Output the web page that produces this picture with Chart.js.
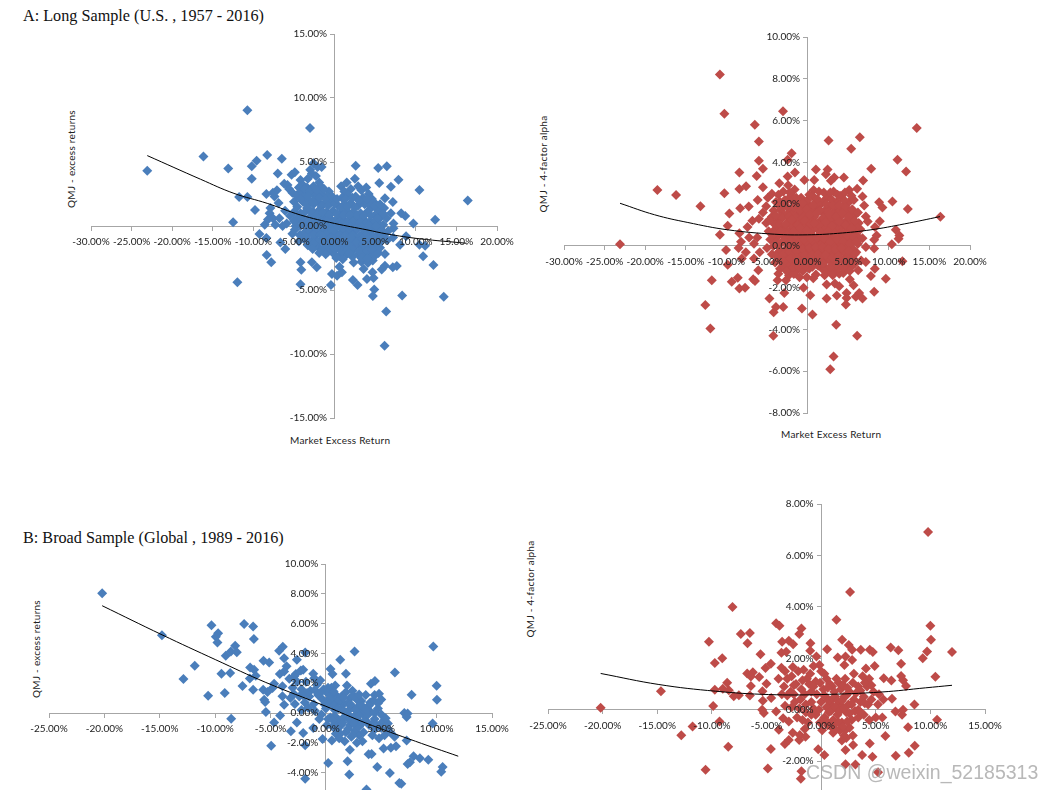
<!DOCTYPE html>
<html>
<head>
<meta charset="utf-8">
<title>QMJ</title>
<script src="https://cdn.jsdelivr.net/npm/chart.js@4/dist/chart.umd.min.js"></script>
<style>
  html, body { margin: 0; padding: 0; background: #fff; width: 1042px; height: 790px; overflow: hidden; }
  canvas { position: absolute; }
  .panel { position: absolute; font: 16.2px "Liberation Serif", serif; color: #111; white-space: nowrap; }
  .axis { position: absolute; font: 10px Lato, sans-serif; letter-spacing: 0.25px; color: #222; white-space: nowrap; }
  .vert { transform: translate(-50%, -50%) rotate(-90deg); }
  .mark { position: absolute; font: 19.5px "Liberation Sans", sans-serif; color: rgba(160,160,160,0.75); white-space: nowrap; }
</style>
</head>
<body>
<div class="panel" style="left:23px;top:7px">A: Long Sample (U.S. , 1957 - 2016)</div>
<div class="panel" style="left:23px;top:529px">B: Broad Sample (Global , 1989 - 2016)</div>
<div class="axis vert" style="left:71px;top:159px">QMJ - excess returns</div>
<div class="axis" style="left:290px;top:434px">Market Excess Return</div>
<div class="axis vert" style="left:543px;top:164px">QMJ - 4-factor alpha</div>
<div class="axis" style="left:781px;top:428px">Market Excess Return</div>
<div class="axis vert" style="left:36px;top:649px">QMJ - excess returns</div>
<div class="axis vert" style="left:530px;top:589px">QMJ - 4-factor alpha</div>
<canvas id="longExcess" width="480" height="410" style="left:50px;top:24px"></canvas>
<canvas id="longAlpha" width="490" height="400" style="left:530px;top:27px"></canvas>
<canvas id="broadExcess" width="510" height="320" style="left:10px;top:554px"></canvas>
<canvas id="broadAlpha" width="510" height="380" style="left:520px;top:494px"></canvas>
<div class="mark" style="left:806px;top:761px">CSDN @weixin_52185313</div>
<script>
// values, in percent: [market return, QMJ]
var longExcessPoints = [
  [-23.07,4.32],[-16.15,5.42],[-13.1,4.5],[-12.5,0.29],[-10.74,9.04],[-3.03,7.66],[-8.3,5.55],[-6.5,5.26],[-9.6,5.1],[-10.2,4.66],
  [-10.2,3.7],[-7,4.1],[-11.76,2.27],[-10.74,2.27],[-9.8,1.25],[2.6,4.71],[2.5,3.7],[5.37,4.53],[6.43,4.66],[5.5,3.36],
  [7.87,3.62],[6.93,3.07],[10.45,2.81],[16.4,2],[12.38,0.49],[9.7,0.2],[8.7,0.78],[8.2,1],[7.17,1.87],[6.2,2.16],
  [6.93,1],[7.25,0.2],[7.25,-0.18],[-8.6,0.1],[-9.26,-0.62],[-8.4,-0.94],[-6.68,-1.28],[-6.07,-1.8],[-8.36,-2.27],[-7.8,-2.84],
  [-11.97,-4.4],[-4.2,-2.84],[-4.1,-3.41],[-2.8,-2.84],[-2.2,-3.23],[-4.2,-4.56],[-0.45,-4.6],[-0.33,-3.75],[0.3,-3.88],[0.9,-3.62],
  [0.6,-3.18],[2.34,-2.86],[2.25,-4.22],[2.83,-4.6],[3.98,-4.14],[4.8,-4.06],[4.67,-3.62],[4.88,-4.97],[4.71,-5.47],[8.32,-5.42],
  [13.44,-5.52],[6.35,-6.67],[6.15,-9.35],[12.17,-3.05],[10.9,-2.37],[11.15,-1.54],[10.45,-1.46],[8.8,-0.81],[8.07,-1.46],[7.66,-3.13],
  [7.17,-3.23],[6.2,-3.1],[5.8,-3.39],[6.2,-2.19],[3.57,-3.36],
  [-5.3,4],[-4.9,4.2],[-5.8,3.2],[-6.2,3.3],[-5.6,2.9],[-5.2,2.6],[-4.2,3.6],[-3.9,3.2],[-3.3,3.7],[-3,4.4],
  [-2.6,4.9],[-2.1,4.6],[-1.6,4.6],[-2.8,4.1],[-2.3,3.9],[-1.9,3.4],[-1.7,3.1],[-3.4,3],[-2.6,3.1],[-0.7,2.7],
  [-0.9,2.3],[-7.6,2.6],[-8.4,2.5],[-7.1,2.8],[-7.4,2.3],[-6.9,1.8],[-7.9,1.4],[-8,1],[-7.6,0.6],[-8.2,0.5],
  [-7.3,0.1],[-6.8,0.6],[-6.1,1.2],[-5.9,0.2],[-6.4,0],[-5.5,0.8],[-5,1.9],[-4.7,2.4],[-4.1,2.7],[-3.6,2.4],
  [0.8,3.1],[1.2,2.7],[1.5,3.4],[2,2.9],[2.9,3.1],[3.3,2.8],[3.9,3],[4.2,2.5],[0.9,2.2],[1.7,2.4],
  [2.6,2.3],[3.5,2.2],[4.6,2.1],[5.1,1.7],[-4.6,1.5],[-3.9,1.9],[-3.1,2],[-2.4,2.4],[-1.6,2.5],[-2,1.9],
  [-1.2,1.8],[-0.4,1.9],[0.4,1.6],[1.2,1.7],[2,1.8],[2.9,1.6],[3.7,1.7],[4.5,1.4],[5.4,1.2],[6.1,1.4],
  [-5,1.1],[-4.2,1],[-3.4,1.4],[-2.6,1.1],[-1.8,1.3],[-1,1.1],[-0.2,1.2],[0.7,1],[1.5,1.2],[2.3,1.1],
  [3.2,1],[4,1.1],[4.9,0.8],[5.7,0.7],[6.4,0.6],[-4.6,0.5],[-3.8,0.6],[-3,0.7],[-2.2,0.5],[-1.4,0.7],
  [-0.6,0.6],[0.2,0.5],[1,0.6],[1.9,0.5],[2.7,0.6],[3.6,0.5],[4.4,0.4],[5.2,0.3],[6,0.1],[-4.2,0],
  [-3.4,0.1],[-2.6,0.1],[-1.8,-0.1],[-1,0.1],[-0.2,0],[0.6,0.1],[1.4,-0.1],[2.2,0.1],[3.1,0],[3.9,-0.1],
  [4.8,-0.1],[5.6,-0.2],[6.6,-0.4],[-5.2,-0.6],[-4.3,-0.7],[-3.7,-0.5],[-2.9,-0.4],[-2.2,-0.6],[-1.4,-0.4],[-0.6,-0.5],
  [0.2,-0.6],[1,-0.4],[1.8,-0.6],[2.6,-0.4],[3.5,-0.6],[4.3,-0.5],[5.2,-0.7],[6,-0.8],[7.2,-0.9],[-4.4,-1.2],
  [-3.2,-1.1],[-2.5,-1],[-1.7,-1.1],[-0.9,-0.9],[-0.1,-1.1],[0.7,-1],[1.5,-1.1],[2.3,-1],[3.1,-1.2],[3.9,-1],
  [4.8,-1.2],[5.6,-1.3],[-2.1,-1.6],[-1.2,-1.7],[-0.5,-1.5],[0.3,-1.7],[1.1,-1.5],[1.9,-1.7],[2.7,-1.5],[3.5,-1.7],
  [4.3,-1.6],[5,-1.8],[-0.2,-2.1],[0.6,-2.3],[1.5,-2.2],[2.9,-2.2],[3.7,-2.3],[4.5,-2.2],[3.3,-2.8],[4.1,-2.9],[4.7,-2.7],
  [-3.4,1.65],[-2.6,1.7],[-1.6,1.55],[-0.8,1.6],[0,1.75],[0.8,1.45],[1.6,1.5],[2.5,1.45],[3.3,1.95],[4.1,1.75],[4.9,1.55],[5.6,1.7],
  [-4.4,0.75],[-3.7,1.05],[-3,1.2],[-2.2,0.9],[-1.4,1.05],[-0.6,0.85],[0.3,0.95],[1.1,0.85],[1.9,0.8],[2.8,0.85],[3.6,0.8],[4.4,0.85],[5.3,0.6],[6,0.95],
  [-3.9,0.25],[-3.2,0.4],[-2.5,0.35],[-1.8,0.25],[-1,0.4],[-0.2,0.3],[0.6,0.3],[1.5,0.25],[2.3,0.35],[3.1,0.25],[3.9,0.2],[4.8,0.2],[5.6,0.05],
  [-3.1,-0.15],[-2.3,-0.2],[-1.4,-0.15],[-0.6,-0.2],[0.2,-0.15],[1,-0.2],[1.8,-0.25],[2.7,-0.15],[3.5,-0.25],[4.4,-0.2],[5.2,-0.3],[6.1,-0.5],
  [-3.4,-0.75],[-2.6,-0.7],[-1.8,-0.65],[-1,-0.65],[-0.2,-0.75],[0.6,-0.7],[1.4,-0.75],[2.2,-0.7],[3.1,-0.8],[3.9,-0.75],[4.7,-0.8],[5.6,-0.95],[6.5,-1.1],
  [-2.9,-1.35],[-2.1,-1.25],[-1.3,-1.35],[-0.5,-1.2],[0.3,-1.3],[1.1,-1.25],[1.9,-1.35],[2.7,-1.25],[3.5,-1.35],[4.4,-1.3],[5.2,-1.45],
  [-1.6,-1.9],[-0.8,-2],[0,-1.8],[0.9,-1.95],[1.6,-1.9],[2.3,-1.85],[3.1,-1.95],[3.9,-1.95],[4.7,-1.9],[5.4,-2.1],[2.2,-2.4],[3.3,-2.5],[4,-2.55],
  [-4.4,3],[-3.7,2.9],[-3,2.7],[-2.2,2.8],[-1.3,2.9],[-4.2,2.1],[-3.3,2.3],[-2.6,2],[-1.9,2.2],[-1.1,2.1],[-0.3,2.3],[0.3,2.1],[1.3,2.1],[2.2,2.2],[3,2],[4,2.1],
  [-4.8,0],[-5,0.4],[-4.9,-0.3],[-3.3,-0.25],[-2.2,0.15],[-1.2,0],[-0.3,-0.4],[0.9,0.2],[2,-0.05],[3.3,-0.1],[4.2,0.05],[5.1,-0.05],[-3.8,-1],[-3.3,-1.5],[-2.6,-1.3],[-1.5,-0.8],[-0.4,-0.9],[1.2,-0.8],[2,-0.9],[3.4,-1],[4.2,-0.95],[5,-1],
  [-2.7,-1.8],[-1.9,-2.1],[-1.1,-2.2],[0.2,-2.5],[1,-2.6],[1.8,-2.1],[5,-2.3],[5.6,-1.7]
];
var longExcessTrend = [[-23.07,5.5],[-16.5,3.65],[-12.4,2.55],[-8.3,1.77],[-4.2,0.86],[0,0.2],[3.98,-0.3],[6.43,-0.62],[10.5,-1],[16.27,-1.35]];

var longAlphaPoints = [
  [-23.1,0.08],[-18.5,2.68],[-16.2,2.44],[-13.2,1.9],[-10.8,8.2],[-10.25,6.33],[-3.03,6.44],[-6.5,5.8],[-6,5],[-6,4.07],
  [-5.5,3.69],[-8.4,3.51],[-6.27,3.35],[-10.25,2.52],[-8.4,2.72],[-7.58,2.86],[-5.5,2.81],[-6.15,2.2],[-7.25,1.88],[-8.3,1.8],
  [-9.63,1.55],[-9.84,0.97],[-10.8,0.53],[-1.97,4.44],[-2.46,4.12],[-1.56,3.51],[-2.46,3.32],[-0.4,3.16],[-3.48,3],[2.58,5.05],
  [6.43,5.2],[5.37,4.65],[13.44,5.64],[11.07,4.12],[12.13,3.56],[7.83,3.69],[6.84,3.13],[1.02,3.66],[2.46,3.66],[2.25,3.43],
  [3.28,3.27],[2.87,3.12],[4.47,3.27],[0.82,3.16],[0.74,2.68],[5.12,2.68],[6.1,2.73],[10.45,2.12],[8.81,2.09],[9.22,1.84],
  [12.34,1.76],[16.35,1.39],[8.89,1.18],[10.86,0.77],[11.2,0.34],[10.37,0.08],[8.2,0.29],[6.76,0.37],[7.17,1.41],[7.4,1.17],
  [6.97,1.93],[6.76,2.36],[-10.04,-0.2],[-9.84,-0.9],[-11.8,-1.65],[-9.34,-1.72],[-8.6,-1.53],[-8.4,-2.04],[-7.7,-2],[-12.6,-2.83],
  [-11.97,-3.96],[-6.7,-1.6],[-6.48,-1.68],[-6.07,-1.17],[-4.7,-2.52],[-3.9,-2.92],[-3,-2.92],[-4.18,-3.18],[-4.22,-4.3],[-3.6,-1.33],
  [-3.7,-1.65],[-2.66,-1.65],[-2.87,-2.25],[-0.5,-2],[0.33,-2.36],[-0.7,-3],[0.6,-3.29],[3.52,-3.77],[6.1,-4.3],[3.2,-5.3],
  [2.79,-5.9],[2.34,-1.85],[3.36,-1.8],[3.9,-1.93],[2.34,-2.52],[3.6,-2.38],[4.8,-2.25],[4.8,-2.49],[4.71,-2.8],[5.2,-1.6],
  [5.66,-1.88],[5.94,-2.44],[6.35,-2.25],[6.76,-2.52],[8.2,-2.2],[7.79,-1.44],[9.63,-1.57],[8.28,-1.09],[6.23,-1.17],[7.17,-0.77],
  [11.68,-0.73],[8.2,-0.13],[7.17,-0.05],[3.9,-1.33],[1.02,-1.37],[11.3,0.5],[8.5,0.5],[8.3,0.9],
  [-8.4,0.6],[-8.2,0.2],[-8.5,-0.1],[-7.6,-0.3],[-8.1,-0.6],[-7.2,0.4],[-6.6,0.1],[-6.2,0.4],[-5.9,-0.3],[-6.6,-0.6],[-7.4,0.9],[-6.8,1.2],
  [-6,1.3],[-5.5,1.6],[-5.1,1.9],[-4.9,2.3],[-4.4,2.5],[-3.9,2.1],[-3,2.6],[-2.4,2.9],[-1.6,2.7],[-0.8,2.3],
  [-3.3,1.7],[-2.5,2.2],[-1.8,2.1],[-0.4,1.9],[0.6,2.4],[1.4,2.6],[2.4,2.3],[3.2,2.6],[4,2.4],[5.1,2.1],
  [5.7,2.2],[1.9,2.1],[3.6,2.1],[-5.1,1.1],[-4.4,1.4],[-3.7,1.2],[-2.9,1.5],[-2.1,1.7],[-1.3,1.5],[-0.5,1.6],
  [0.3,1.9],[1.1,1.8],[1.9,1.6],[2.7,1.9],[3.5,1.7],[4.3,1.9],[5.1,1.6],[5.9,1.5],[6.3,1.1],[-4.8,0.7],
  [-4,0.8],[-3.2,0.9],[-2.4,1.1],[-1.6,1.2],[-0.8,1.1],[0,1.3],[0.8,1.4],[1.6,1.2],[2.4,1.4],[3.2,1.2],
  [4,1.4],[4.8,1.2],[5.6,1],[-4.6,0.3],[-3.8,0.4],[-3,0.5],[-2.2,0.7],[-1.4,0.8],[-0.6,0.7],[0.2,0.9],
  [1,0.9],[1.8,0.8],[2.6,1],[3.4,0.8],[4.2,0.9],[5,0.8],[5.8,0.6],[6.5,0.8],[-5,-0.1],[-4.2,0],
  [-3.4,0.1],[-2.6,0.2],[-1.8,0.4],[-1,0.3],[-0.2,0.5],[0.6,0.5],[1.4,0.5],[2.2,0.6],[3,0.4],[3.8,0.5],
  [4.6,0.4],[5.4,0.3],[6.2,0.1],[-4.4,-0.4],[-3.6,-0.3],[-2.8,-0.2],[-2,-0.1],[-1.2,-0.1],[-0.4,0.1],[0.4,0.1],
  [1.2,0.2],[2,0.2],[2.8,0],[3.6,0.1],[4.4,0],[5.2,-0.1],[6,-0.3],[-4,-0.8],[-3.2,-0.7],[-2.4,-0.6],
  [-1.6,-0.5],[-0.8,-0.4],[0,-0.3],[0.8,-0.3],[1.6,-0.2],[2.4,-0.3],[3.2,-0.4],[4,-0.3],[4.8,-0.5],[5.6,-0.6],
  [6.6,-0.7],[-3.4,-1.1],[-2.6,-1],[-1.8,-0.9],[-1,-0.8],[-0.2,-0.7],[0.6,-0.7],[1.4,-0.6],[2.2,-0.7],[3,-0.8],
  [3.8,-0.7],[4.6,-0.9],[5.4,-1],[-1.4,-1.2],[-0.6,-1.2],[-0.1,-1.5],[0.2,-1.1],[1.8,-1.1],[2.6,-1.2],[3.4,-1.1],
  [4.4,-1.3],[-2.3,-1.4],[-1,-1.5],
  [-3.6,2.45],[-2.8,2.2],[-2,2.4],[-1.2,2],[0,2.2],[1,2.1],[2.9,2.25],[4.5,2.2],[-2.9,1.95],[-1.5,1.9],[0.7,1.65],[1.5,1.95],[2.3,1.75],[3.1,1.6],[3.9,1.65],[4.7,1.6],[5.5,1.35],
  [-4.1,1.05],[-3.4,1.4],[-2.6,1.45],[-1.8,1.55],[-1,1.35],[-0.2,1.55],[0.4,1.15],[1.2,1.1],[2,1.05],[2.8,1.3],[3.6,1.05],[4.4,1.1],[5.2,1.05],[6,0.9],
  [-4.3,0.55],[-3.5,0.65],[-2.7,0.8],[-1.9,0.95],[-1.1,0.7],[-0.3,0.95],[0.5,0.7],[1.3,0.8],[2.2,0.85],[3,0.7],[3.8,0.85],[4.6,0.6],[5.4,0.65],[6.2,0.45],
  [-3.9,0.15],[-3.1,0.2],[-2.3,0.4],[-1.4,0.45],[-0.6,0.45],[0.1,0.65],[1,0.35],[1.8,0.45],[2.6,0.3],[3.4,0.45],[4.2,0.3],[5,0.25],[5.8,0.25],
  [-3.4,-0.25],[-2.4,-0.1],[-1.6,0.1],[-0.8,0.1],[0,0.15],[0.8,0.15],[1.6,0.05],[2.4,0],[3.2,0],[4,0.1],[4.8,0],[5.6,-0.15],
  [-3.6,-0.65],[-2.8,-0.5],[-2,-0.4],[-1.2,-0.35],[-0.4,-0.25],[0.4,-0.25],[1.2,-0.2],[2,-0.2],[2.8,-0.35],[3.6,-0.25],[4.4,-0.25],[5.2,-0.4],
  [-3,-0.95],[-2.2,-0.85],[-1.4,-0.75],[-0.6,-0.65],[0.2,-0.55],[1,-0.55],[1.8,-0.55],[2.6,-0.6],[3.4,-0.6],[4.2,-0.65],[5,-0.8],[5.8,-0.85],
  [-2,-1.2],[-1.7,-1.35],[0.6,-1],[1.3,-0.95],[2.2,-1.05],[3,-1.05],[3.8,-1.05],[4.8,-1.1],[0.7,-1.55],[2.1,-1.4],[3.1,-1.4],
  [-3.4,2.1],[-2.2,2.55],[-1.4,2.3],[-0.6,2.05],[0.2,2.45],[1.2,2.25],[2,2.55],[2.8,2.55],[3.7,2.45],[4.6,2.55],[5.4,2.4],
  [-4.2,1.7],[-3.5,1.9],[-2.6,1.9],[-1.7,1.85],[-0.9,1.7],[-0.1,1.75],[0.7,1.95],[1.5,1.7],[2.3,2],[3.1,1.95],[3.9,1.95],[4.7,1.85],[5.5,1.75],[6.2,1.6],
  [-4.7,1.25],[-3.9,1.45],[-3.1,1.35],[-2.3,1.4],[-1.4,1.35],[-0.6,1.35],[0.3,1.5],[1.1,1.55],[1.9,1.35],[2.7,1.5],[3.5,1.4],[4.3,1.55],[5,1.4],[5.8,1.2],
  [-3.5,1.05],[-2.7,1.05],[-2,1.25],[-1.2,1],[-0.4,1.2],[0.4,1.05],[1.4,1],[2.2,1.15],[3,0.95],[3.9,1.15],[4.7,1],[5.4,0.85],
  [-4.1,0.6],[-3.3,0.7],[-2.5,0.55],[-1.7,0.7],[-0.9,0.85],[-0.1,0.75],[0.8,1.1],[1.6,0.65],[2.5,0.7],[3.3,0.6],[4.1,0.65],[4.9,0.5],[5.7,0.45],
  [-3.7,0.05],[-2.9,0.25],[-2.1,0.2],[-1.2,0.15],[-0.4,0.3],[0.4,0.35],[1.2,0.4],[2,0.35],[2.8,0.2],[3.6,0.3],[4.4,0.2],[5.2,0.1],[6,0.2],
  [-3.8,-0.5],[-3,-0.4],[-2.2,-0.3],[-1.4,-0.25],[-0.6,-0.15],[0.2,-0.1],[1,-0.05],[1.8,-0.05],[2.6,-0.15],[3.4,-0.15],[4.2,-0.1],[5,-0.25],[5.8,-0.4],
  [-2.9,-0.75],[-2.1,-0.6],[-1.3,-0.55],[-0.4,-0.45],[0.5,-0.45],[1.3,-0.4],[2.2,-0.45],[3,-0.55],[3.8,-0.5],[4.6,-0.7],[5.2,-0.75],
  [-2.6,-1.2],[-1.8,-1.05],[-1.1,-1],[-0.3,-0.95],[0.4,-0.85],[1.1,-0.85],[1.9,-0.85],[2.8,-1],[3.6,-0.9],[4.4,-1.05],[5.2,-1.2]
];
var longAlphaTrend = [[-23.1,2.04],[-18.85,1.49],[-14.75,1.12],[-9.84,0.77],[-4.1,0.56],[0,0.53],[3.7,0.6],[7.8,0.77],[11.9,1.05],[16.3,1.4]];

var broadExcessPoints = [
  [-20.2,8.04],[-14.8,5.22],[-12.86,2.28],[-11.84,3.17],[-10.63,1.16],[-10.33,5.89],[-9.73,5.36],[-9.94,5.11],[-9.79,4.73],[-7.38,5.98],
  [-6.57,5.8],[-6.5,4.96],[-8.19,4.51],[-8.58,4.13],[-8.04,4.08],[-9.04,3.84],[-9.43,2.63],[-8.64,2.68],[-9.13,1.34],[-8.55,-0.38],
  [-7.53,1.81],[-6.87,2.32],[-6.84,3.06],[-6.48,2.9],[-6.33,2.5],[-6.57,1.56],[-5.66,1.56],[-5.57,0.89],[-5.48,0.74],[-5.42,0.07],
  [-4.67,-0.63],[-4.94,-2.19],[-5.63,3.5],[-5.12,3.39],[-4.22,4.17],[-3.89,4.44],[-3.77,3.68],[-3.55,3.13],[-4.16,2.61],[-3.77,2.79],
  [-4.67,1.96],[-5.27,1.41],[-4.82,1.67],[-3.92,1.79],[-3.92,1.12],[-3.77,0.56],[-4.13,-0.16],[-2.62,3.57],[-1.87,4.06],[-2.71,2.61],
  [-2.86,2.46],[-2.26,2.86],[-2.05,2.9],[-1.14,2.63],[-1.05,2.34],[-3.16,-1.23],[-2.05,-1.34],[-2.62,-0.63],[-1.87,-2.17],[-1.87,-4.42],
  [-1.14,-1],[-0.3,-1.74],[0.21,-3.35],[0.54,-1.85],[0.42,2.95],[0.6,2.61],[1.3,3.57],[2.59,4.13],[1.81,2.63],[1.9,1.85],
  [0.84,1.85],[4.07,1.96],[4.43,2.14],[6.23,2.72],[9.7,4.46],[10,1.83],[10.03,0.89],[7.74,1.23],[7.08,0],[7.38,-0.04],
  [7.29,-0.27],[9.64,-0.71],[7.29,-1.85],[6.33,-2.23],[5.87,-2.34],[5.21,-2.39],[2.17,-2.46],[1.96,-3.24],[3.86,-2.77],[4.13,-2.75],
  [4.64,-3.62],[5.78,-4.02],[2.11,-4.13],[3.67,-5.13],[6.63,-4.69],[6.81,-4.75],[7.38,-3.42],[7.59,-3.3],[7.92,-2.9],[8.49,-3.04],
  [9.25,-3.13],[10.54,-3.62],[10.42,-3.95],
  [-3.3,2.3],[-3,1.7],[-2.6,2.1],[-2.2,1.6],[-1.8,2.1],[-1.4,1.5],[-0.8,1.9],[-0.5,2.2],[-0.2,1.6],[0.2,1.3],
  [0.5,1.7],[-3.2,1],[-2.8,0.6],[-2.4,1.1],[-1.9,0.7],[-1.5,1.1],[-1.1,0.6],[-0.7,1.2],[-0.3,0.9],[0.1,0.8],
  [0.5,0.9],[0.9,1.2],[1.4,1.1],[1.8,1.4],[2.2,1],[2.4,1.5],[2.8,0.9],[3.2,0.8],[3.6,1.2],[4,0.7],
  [4.4,1.2],[4.8,1.3],[5,0.9],[-0.4,-0.1],[0,0.3],[0.4,-0.3],[0.8,0.2],[1.2,-0.5],[1.6,0.6],[2,-0.1],
  [2.4,0.4],[2.8,-0.4],[3.2,0.2],[3.6,-0.5],[4,0.1],[4.4,-0.4],[4.7,0.3],[5.1,-0.6],[5.6,-0.7],[0.6,-0.9],
  [1,-1.1],[1.4,-0.8],[1.8,-1.3],[2.2,-0.8],[2.6,-1.2],[3,-1.5],[3,-0.9],[3.4,-1.3],[4.4,-1.1],[4.8,-1.7],
  [5.3,-1.5],[5.8,-1.3],[6.2,-1.6],[1.7,-1.9],[2.3,-1.6],[2.8,-2],[3.3,-1.9],[0.9,-1.4],[0.1,-0.8],[-0.6,-0.4],
  [2.1,0.2],[1.6,-0.3],[3,0.5],[1.4,0.3],[2.6,-0.2],[3.8,-0.1],[4.2,-0.7],
  [-1.7,1.35],[-1,1.55],[-0.5,1.35],[0.2,1.7],[0.7,1.45],[1.1,0.75],[1.6,1],[2,0.65],[2.5,1.15],[3,1.25],[3.3,0.45],[3.9,0.5],[4.3,0.85],[4.7,0.65],
  [-0.1,0.55],[0.3,0.6],[0.7,0.5],[1.1,0.3],[1.6,0.15],[2.2,0.6],[2.7,0.2],[3.4,-0.1],[3.6,0.25],[4.4,0],[5,-0.1],[5.4,-0.35],
  [0.2,-0.4],[0.8,-0.2],[1,-0.6],[1.5,-0.65],[2.1,-0.45],[2.5,-0.7],[3,-0.15],[3.3,-0.65],[3.9,-0.8],[4.5,-0.75],[5,-1],[0.6,-0.45],
  [1.3,-1.4],[2,-1.05],[2.4,-1.5],[1.2,-1.7],[4.2,-1.5],[5.6,-1.05],[-2.2,0.2],[-1.6,0.35],[-1,0.15],[-2.9,1.3],[-2.1,1.2]
];
var broadExcessTrend = [[-20.2,7.2],[-14.8,5.25],[-9.94,3.57],[-5.42,2.05],[0,0.45],[3.6,-0.67],[8.1,-1.9],[11.95,-2.9]];

var broadAlphaPoints = [
  [-20.18,0.08],[-14.66,0.72],[-12.8,-0.99],[-11.77,-0.65],[-10.58,-2.33],[-10.27,2.64],[-9.73,1.82],[-9.05,2],[-9.88,0.14],[-9.73,0.78],
  [-9.3,-0.46],[-8.5,-1.44],[-8.6,1.05],[-9,0.82],[-8.45,0.76],[-8,0.52],[-8.11,3.99],[-7.35,2.94],[-6.52,2.98],[-6.74,2.58],
  [-5.55,2.16],[-5.09,1.62],[-4.6,1.79],[-6.77,1.41],[-6.25,1.46],[-6.43,1.29],[-5.67,1.27],[-6.43,0.92],[-6.52,0.55],[-7.53,0.56],
  [-5,1.01],[-5.37,0.72],[-5.34,0.35],[-4.57,0.46],[-5.4,0],[-5.24,-0.13],[-4.12,-0.07],[-3.87,-0.78],[-3.48,-0.33],[-2.96,-0.46],
  [-4.6,-1.53],[-4.88,-2.29],[-3.32,-1.33],[-2.96,-1.18],[-2.01,-1.18],[-1.95,-0.98],[-1.43,-1.05],[-1.8,-2.39],[-1.86,-2.68],[-0.27,-1.54],
  [0.3,-1.76],[2.23,-2.12],[3.14,-2.13],[3.75,-1.76],[4.7,-1.83],[5.21,-2.43],[6.83,-1.79],[8.02,-1.67],[8.57,-1.4],[7.96,-0.68],
  [5.88,-1.02],[4.45,-1.31],[2.23,-1.57],[2.93,-1.37],[10.61,-0.39],[8.54,0.2],[7.41,-0.2],[7.5,0],[6.8,-0.07],[7.77,0.92],
  [7.5,1.15],[7.32,1.31],[7.32,1.79],[7.07,2.31],[6.37,2.42],[5.73,1.22],[6.43,1.14],[6.49,0.43],[10.46,1.28],[11.98,2.24],
  [9.3,2],[9.7,2.26],[10.06,2.72],[10,3.27],[9.79,6.91],[2.65,4.58],[1.4,3.5],[1.92,2.72],[2.53,2.52],[2.84,2.33],
  [3.63,2.33],[4.45,2.33],[4.73,2.24],[2.84,1.93],[2.13,1.74],[2.23,2.07],[1.52,2.03],[0.55,2.35],[-0.98,2.58],[-1,2.29],
  [-0.43,2.07],[-0.15,1.74],[-1.8,3.16],[-2,2.94],[-4.12,3.36],[-3.81,3.27],[-3.57,2.64],[-2.96,2.68],[-2.56,2.55],[-3.63,2.22],
  [-3.2,2.25],[-3.63,1.63],[-2.59,1.66],
  [-3.4,0.9],[-3.1,1.2],[-2.8,0.7],[-2.7,1.3],[-2.3,1],[-2.1,1.5],[-1.8,0.8],[-1.3,1.2],[-1,1.4],[-0.9,0.7],
  [-0.5,1.1],[0,1.5],[0.2,0.8],[0.5,1.2],[1,0.9],[1.4,1.2],[1.8,0.8],[2.2,1.2],[2.6,0.7],[3,1.4],
  [3.4,0.9],[3.8,1.3],[4.1,1.6],[4.4,1.2],[4.9,1.7],[4.2,0.9],[4.8,0.7],[5.3,0.6],[-2.4,0.3],[-1.9,0.4],
  [-1.4,0.2],[-0.9,0.3],[-0.4,0.6],[0,0.3],[0.4,0.5],[0.9,0.2],[1.3,0.5],[1.7,0.2],[2.1,0.5],[2.5,0.2],
  [3,0.4],[3.4,0],[3.9,0.5],[4.3,0.2],[5.2,0.2],[5.7,0.4],[-2.2,-0.3],[-1.7,-0.4],[-1.2,-0.5],[-0.5,-0.2],
  [-0.2,0],[0.3,-0.3],[0.7,-0.1],[1.1,-0.4],[1.5,-0.2],[1.9,-0.5],[2.3,-0.1],[2.8,-0.4],[3.4,-0.3],[3.9,-0.2],
  [4.4,-0.4],[5,-0.3],[5.6,-0.3],[0.1,-0.8],[0.6,-0.6],[1.1,-0.9],[1.7,-0.8],[2.2,-0.8],[2.6,-0.7],[2.9,-1],
  [1.3,-0.5],[2.3,-1.1],
  [-1.6,1.55],[-0.7,1.7],[0.3,1.4],[0.8,1],[1.2,0.7],[1.6,1.05],[2,0.95],[2.4,0.85],[2.9,1.05],[3.6,0.75],[4,1.05],[4.6,0.95],
  [-0.1,1.05],[0.6,0.85],[0.3,0.55],[0.7,0.35],[1.1,0.45],[1.5,0.35],[1.9,0.35],[2.3,0.55],[2.8,0.2],[3.2,0.65],[3.6,0.3],[4,0.25],[4.6,0.4],
  [0.5,0.1],[0.9,-0.05],[1.3,0.1],[1.7,-0.05],[2.1,0.05],[2.6,-0.15],[3.1,-0.05],[3.6,-0.1],[0.5,-0.45],[0.9,-0.65],[1.3,-0.75],[1.6,-0.5],[2,-0.65],[2.4,-0.45],[2.1,-1],[1.9,-1.2],[-0.1,-0.5],[-1.5,0.6],[-2,0.05],[-2.5,0.6],
  [-3.9,1.2],[-3.6,0.6],[-3.3,1.5],[-2.5,0.95],[-1.7,1.15],[-1.1,1],[-0.7,0.9],[-3.1,0.55],[-3.3,0.15],[-2.7,0.1],[-0.7,0.05],[-0.9,-0.2],[-1.4,-0.1],[-2.6,-0.9],[-1.5,-0.75]
];
var broadAlphaTrend = [[-20.18,1.41],[-14.85,0.98],[-9.66,0.72],[-4.8,0.59],[0,0.59],[5.58,0.69],[9.54,0.85],[11.98,0.95]];

var blue = '#4a7ebb';
var red = '#be4b48';
var tickFont = { family: 'Lato, sans-serif', size: 10 };

function pct(v) {
  return v.toFixed(2) + '%';
}

function scatter(id, points, trend, color, xMin, xMax, xStep, yMin, yMax, yStep, padding) {
  var toXY = function (p) { return { x: p[0], y: p[1] }; };
  return new Chart(document.getElementById(id), {
    type: 'scatter',
    data: {
      datasets: [{
        data: trend.map(toXY),
        showLine: true,
        tension: 0.4,
        borderColor: '#000',
        borderWidth: 1,
        pointRadius: 0
      }, {
        data: points.map(toXY),
        pointStyle: 'rectRot',
        pointRadius: 5,
        backgroundColor: color,
        borderWidth: 0
      }]
    },
    options: {
      responsive: false,
      animation: false,
      events: [],
      layout: { padding: padding },
      plugins: { legend: { display: false }, tooltip: { enabled: false } },
      scales: {
        x: {
          type: 'linear', position: { y: 0 }, min: xMin, max: xMax,
          border: { color: '#a6a6a6' },
          grid: { drawOnChartArea: false, tickLength: 4, tickColor: '#a6a6a6' },
          ticks: { stepSize: xStep, callback: pct, autoSkip: false, maxRotation: 0, padding: 6, font: tickFont, color: '#222', z: 1 }
        },
        y: {
          type: 'linear', position: { x: 0 }, min: yMin, max: yMax,
          border: { color: '#a6a6a6' },
          grid: { drawOnChartArea: false, tickLength: 4, tickColor: '#a6a6a6' },
          // the library ignores tick padding on an axis placed at a value, so the em space keeps the gap
          ticks: { stepSize: yStep, callback: function (v) { return pct(v) + '\u2003'; }, autoSkip: false, font: tickFont, color: '#222', z: 1 }
        }
      }
    }
  });
}

scatter('longExcess', longExcessPoints, longExcessTrend, blue, -30, 20, 5, -15, 15, 5, { left: 41, right: 33, top: 10, bottom: 16 });
scatter('longAlpha', longAlphaPoints, longAlphaTrend, red, -30, 20, 5, -8, 10, 2, { left: 34, right: 50, top: 10, bottom: 14 });
scatter('broadExcess', broadExcessPoints, broadExcessTrend, blue, -25, 15, 5, -10, 10, 2, { left: 39, right: 28, top: 10, bottom: 12 });
scatter('broadAlpha', broadAlphaPoints, broadAlphaTrend, red, -25, 15, 5, -6, 8, 2, { left: 28, right: 45, top: 10, bottom: 10 });
</script>
</body>
</html>
